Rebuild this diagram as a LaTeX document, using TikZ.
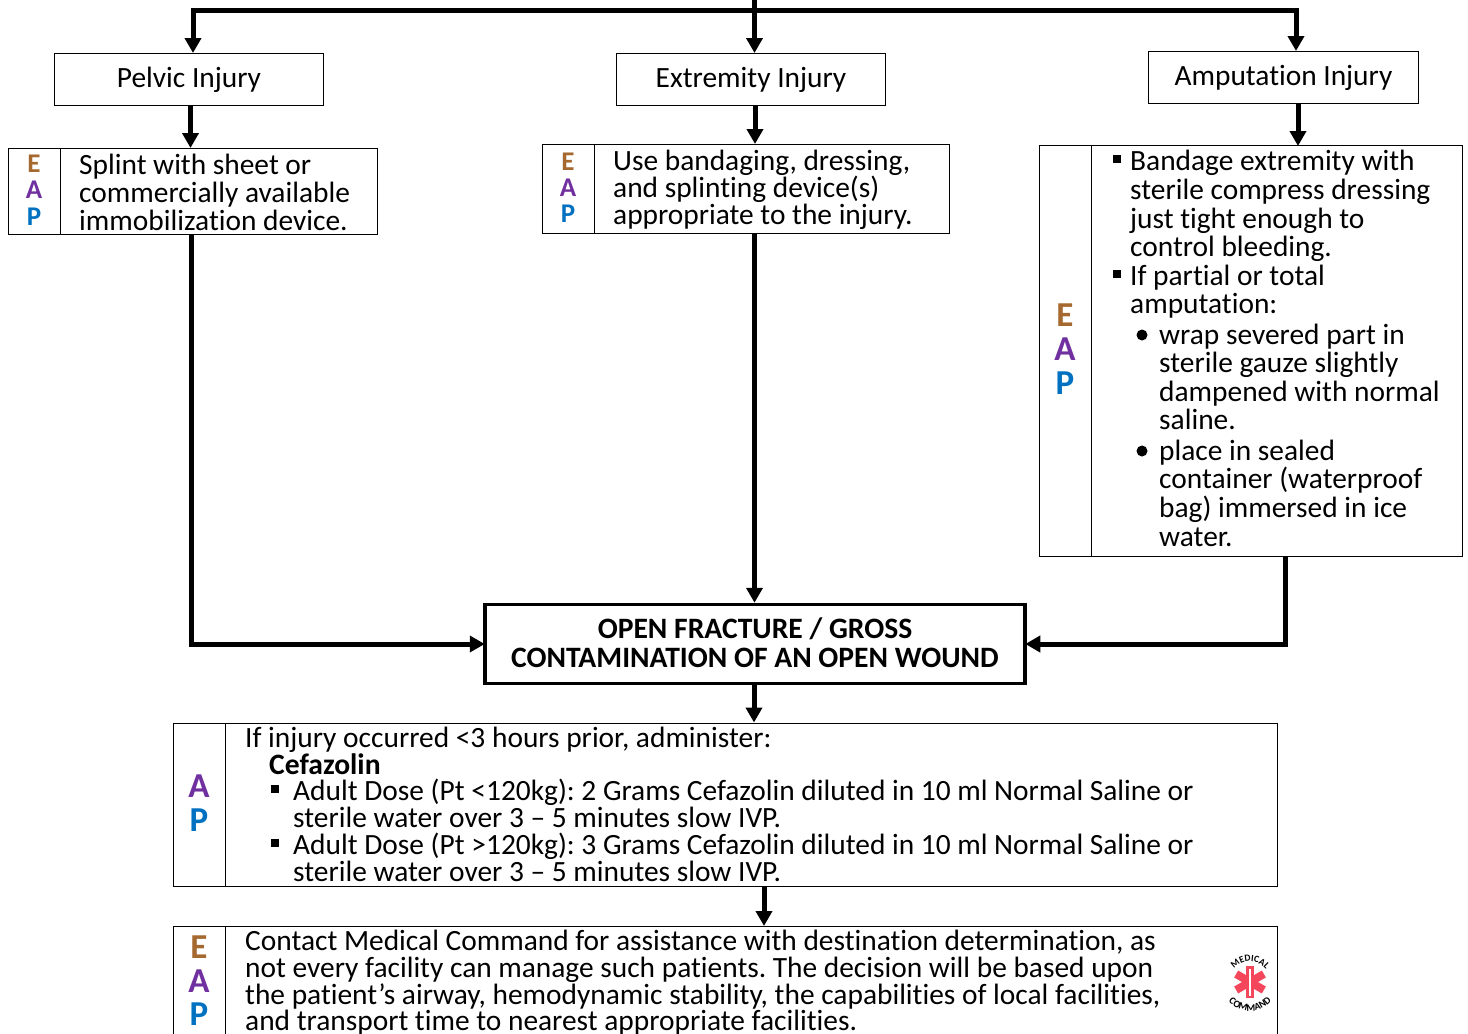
\documentclass[tikz,border=0pt]{standalone}
\usepackage{fontspec}
\setmainfont{Carlito}[RawFeature={-liga;-clig}]
\usetikzlibrary{arrows.meta,positioning,decorations.text}
\definecolor{eapE}{HTML}{A5692F}
\definecolor{eapA}{HTML}{7030A0}
\definecolor{eapP}{HTML}{0070C0}
\definecolor{logored}{HTML}{F5475B}
\newcommand{\bodyfont}{\fontsize{29.4}{30}\selectfont\frenchspacing}
\newcommand{\boldfont}{\fontsize{29.6}{30}\selectfont\bfseries\frenchspacing}
\newcommand{\lowered}[1]{\raisebox{-1pt}[\height][\depth]{#1}}
\tikzset{x=1pt,y=-1pt,
 flow/.style={line width=5pt,-{Triangle[length=15pt,width=16pt]}},
 plain/.style={draw,line width=1pt,inner sep=0,minimum height=52pt,font=\bodyfont},
 box/.style={draw,line width=1pt},
 txt/.style={anchor=base west,inner sep=0,font=\bodyfont},
 lab/.style={anchor=base,inner sep=0,font=\fontsize{27}{27}\selectfont\bfseries},
 blab/.style={anchor=base,inner sep=0,font=\fontsize{35}{35}\selectfont\bfseries},
}
\begin{document}
\begin{tikzpicture}
\useasboundingbox (0,0) rectangle (1468,1034);
% top boxes
\node[plain,minimum width=269pt] (pelvic) at (189,79) {\lowered{Pelvic Injury}};
\node[plain,minimum width=269pt] (ext) at (751,79) {\lowered{Extremity Injury}};
\node[plain,minimum width=270pt] (amp) at (1283.5,77) {\lowered{Amputation Injury}};
% eap boxes
\node[box,minimum width=369pt,minimum height=86pt,inner sep=0] (b1) at (193,191) {};
\draw[line width=1pt] (60.5,148) -- (60.5,234);
\node[box,minimum width=407pt,minimum height=89pt,inner sep=0] (b2) at (746,189) {};
\draw[line width=1pt] (594.5,144.5) -- (594.5,233.5);
\node[box,minimum width=423pt,minimum height=410.5pt,inner sep=0] (b3) at (1251,350.75) {};
\draw[line width=1pt] (1091,145.5) -- (1091,556);
% central
\node[draw,line width=3.5pt,minimum width=540pt,minimum height=79pt,inner sep=0] (open) at (755,644) {};
\node[anchor=base,inner sep=0,font=\boldfont] (o1) at (755,638) {OPEN FRACTURE / GROSS};
\node[anchor=base,inner sep=0,font=\boldfont] (o2) at (755,667) {CONTAMINATION OF AN OPEN WOUND};
\node[box,minimum width=1104pt,minimum height=163pt,inner sep=0] (ap) at (725.5,804.5) {};
\draw[line width=1pt] (225.5,723) -- (225.5,886);
\draw[line width=1pt] (173.5,1040) -- (173.5,926) -- (1277.5,926) -- (1277.5,1040);
\draw[line width=1pt] (225.5,926) -- (225.5,1040);
\coordinate (last) at (764,926);
% letters
\node[lab,text=eapE] (e1) at (34,172) {E};
\node[lab,text=eapA] (a1) at (34,198) {A};
\node[lab,text=eapP] (p1) at (34,225) {P};
\node[lab,text=eapE] (e2) at (568,170) {E};
\node[lab,text=eapA] (a2) at (568,196) {A};
\node[lab,text=eapP] (p2) at (568,222) {P};
\node[blab,text=eapE] (e3) at (1065,326) {E};
\node[blab,text=eapA] (a3) at (1065,360) {A};
\node[blab,text=eapP] (p3) at (1065,394) {P};
\node[blab,text=eapA] (a4) at (199,797) {A};
\node[blab,text=eapP] (p4) at (199,831) {P};
\node[blab,text=eapE] (e5) at (199,958) {E};
\node[blab,text=eapA] (a5) at (199,992) {A};
\node[blab,text=eapP] (p5) at (199,1025) {P};
% texts
\node[txt] (t1) at (79,174) {Splint with sheet or};
\node[txt] (t2) at (79,202) {commercially available};
\node[txt] (t3) at (79,230.5) {immobilization device.};
\node[txt] (t4) at (613,170.5) {Use bandaging, dressing,};
\node[txt] (t5) at (613,197.5) {and splinting device(s)};
\node[txt] (t6) at (613,224) {appropriate to the injury.};
\node[txt] (u1) at (1130,170.5) {Bandage extremity with};
\node[txt] (u2) at (1130,199.5) {sterile compress dressing};
\node[txt] (u3) at (1130,228) {just tight enough to};
\node[txt] (u4) at (1130,256.5) {control bleeding.};
\node[txt] (u5) at (1130,285.5) {If partial or total};
\node[txt] (u6) at (1130,313.5) {amputation:};
\node[txt] (u7) at (1159,344.5) {wrap severed part in};
\node[txt] (u8) at (1159,372.5) {sterile gauze slightly};
\node[txt] (u9) at (1159,401.5) {dampened with normal};
\node[txt] (u10) at (1159,429.5) {saline.};
\node[txt] (u11) at (1159,460.5) {place in sealed};
\node[txt] (u12) at (1159,488.5) {container (waterproof};
\node[txt] (u13) at (1159,517.5) {bag) immersed in ice};
\node[txt] (u14) at (1159,546.5) {water.};
\fill (1113,155) rectangle (1121,163);
\fill (1113,270) rectangle (1121,278);
\fill (1142,335) circle (5.5);
\fill (1142,451) circle (5.5);
\node[txt] (v1) at (245,747.5) {If injury occurred <3 hours prior, administer:};
\node[txt,font=\boldfont] (v2) at (269,774.5) {Cefazolin};
\node[txt] (v3) at (293,800.5) {Adult Dose (Pt <120kg): 2 Grams Cefazolin diluted in 10 ml Normal Saline or};
\node[txt] (v4) at (293,827.5) {sterile water over 3 – 5 minutes slow IVP.};
\node[txt] (v5) at (293,854.5) {Adult Dose (Pt >120kg): 3 Grams Cefazolin diluted in 10 ml Normal Saline or};
\node[txt] (v6) at (293,881.5) {sterile water over 3 – 5 minutes slow IVP.};
\fill (271,785) rectangle (279,793);
\fill (271,839) rectangle (279,847);
\node[txt] (w1) at (245,950.5) {Contact Medical Command for assistance with destination determination, as};
\node[txt] (w2) at (245,977.5) {not every facility can manage such patients. The decision will be based upon};
\node[txt] (w3) at (245,1004.5) {the patient’s airway, hemodynamic stability, the capabilities of local facilities,};
\node[txt] (w4) at (245,1030) {and transport time to nearest appropriate facilities.};
% top connectors
\coordinate (top) at (754.5,0);
\coordinate (tl) at (193,10.5);
\coordinate (tr) at (1296,10.5);
\draw[line width=5pt] (190.5,10.5) -- (1298.5,10.5);
\draw[flow] (tl) -- (193,53);
\draw[flow] (top) -- (754.5,53);
\draw[flow] (tr) -- (1296,51);
\draw[flow] (190.5,105) -- (190.5,148);
\draw[flow] (755,105) -- (755,144);
\draw[flow] (1298,103) -- (1298,146);
\draw[flow] (191,234) |- ([xshift=1.5pt]open.west);
\draw[flow] (754.5,234) -- (open.north -| 754.5,0);
\draw[flow] (1285,556) |- ([xshift=-1.5pt]open.east);
\draw[flow] (754,684) -- (ap.north -| 754,0);
\draw[flow] (764,886) -- (last);
% logo
\foreach \a in {0,60,120} \fill[logored,rotate around={\a:(1250,982)}] (1246,966) rectangle (1254,998);
\fill[white] (1249.3,969) rectangle (1250.7,996);
\path[decorate,decoration={text along path,text align=center,text={|\fontsize{9.5}{10}\selectfont\bfseries|MEDICAL}}]
  (1250pt,-982pt) ++(155:20.5pt) arc[start angle=155,end angle=25,radius=20.5pt];
\path[decorate,decoration={text along path,text align=center,text={|\fontsize{10}{11}\selectfont\bfseries|COMMAND}}]
  (1250pt,-982pt) ++(195:29pt) arc[start angle=195,end angle=345,radius=29pt];
\end{tikzpicture}
\end{document}
